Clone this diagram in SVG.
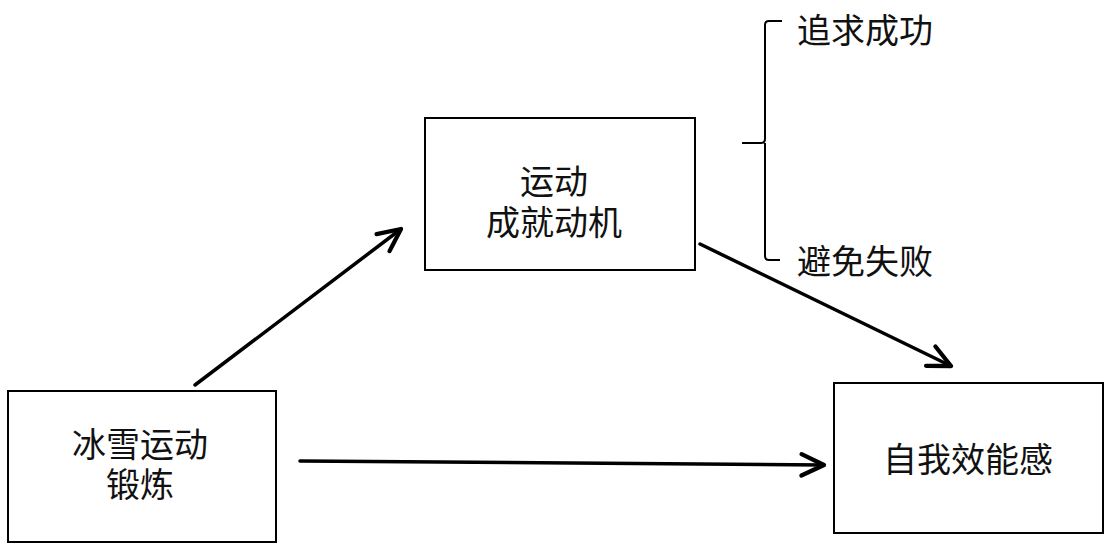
<svg xmlns="http://www.w3.org/2000/svg" width="1110" height="547" viewBox="0 0 1110 547">
<style>
.box{fill:#fff;stroke:#000;stroke-width:2}
.t{font-family:"Liberation Sans","Noto Sans CJK SC",sans-serif;font-size:34px;fill:#111;text-anchor:middle}
.tl{font-family:"Liberation Sans","Noto Sans CJK SC",sans-serif;font-size:34px;fill:#111}
.c{stroke:#000;stroke-width:3.5;fill:none;stroke-linecap:round}
.br{stroke:#000;stroke-width:2;fill:none}
</style>
<defs>
<marker id="ah" markerUnits="userSpaceOnUse" markerWidth="30" markerHeight="30" viewBox="-24 -14 28 28" refX="0" refY="0" orient="auto">
<path d="M-21,-10 L0,0 L-21,10" fill="none" stroke="#000" stroke-width="4" stroke-linecap="round" stroke-linejoin="round"/>
</marker>
</defs>
<rect width="1110" height="547" fill="#fff"/>
<g id="n1">
<rect class="box" x="8" y="391" width="268" height="151"/>
<text class="t" x="140" y="457">冰雪运动</text>
<text class="t" x="140" y="497">锻炼</text>
</g>
<g id="n2">
<rect class="box" x="425" y="118" width="270" height="152"/>
<text class="t" x="554" y="194">运动</text>
<text class="t" x="554" y="235">成就动机</text>
</g>
<g id="n3">
<rect class="box" x="834" y="383" width="269" height="150"/>
<text class="t" x="968" y="472">自我效能感</text>
</g>
<g id="brace">
<path class="br" d="M782,21 L769,21 Q765,21 765,25 L765,139 Q765,143 761,143 L742,143 M765,143 Q765,147 765,150 L765,256 Q765,260 769,260 L780,260"/>
<text class="tl" x="797" y="43">追求成功</text>
<text class="tl" x="797" y="274">避免失败</text>
</g>
<g id="connectors">
<line class="c" x1="195" y1="385" x2="401" y2="229" marker-end="url(#ah)"/>
<line class="c" x1="700" y1="244" x2="951" y2="366" marker-end="url(#ah)"/>
<line class="c" x1="300" y1="461" x2="824" y2="465" marker-end="url(#ah)"/>
</g>
</svg>
